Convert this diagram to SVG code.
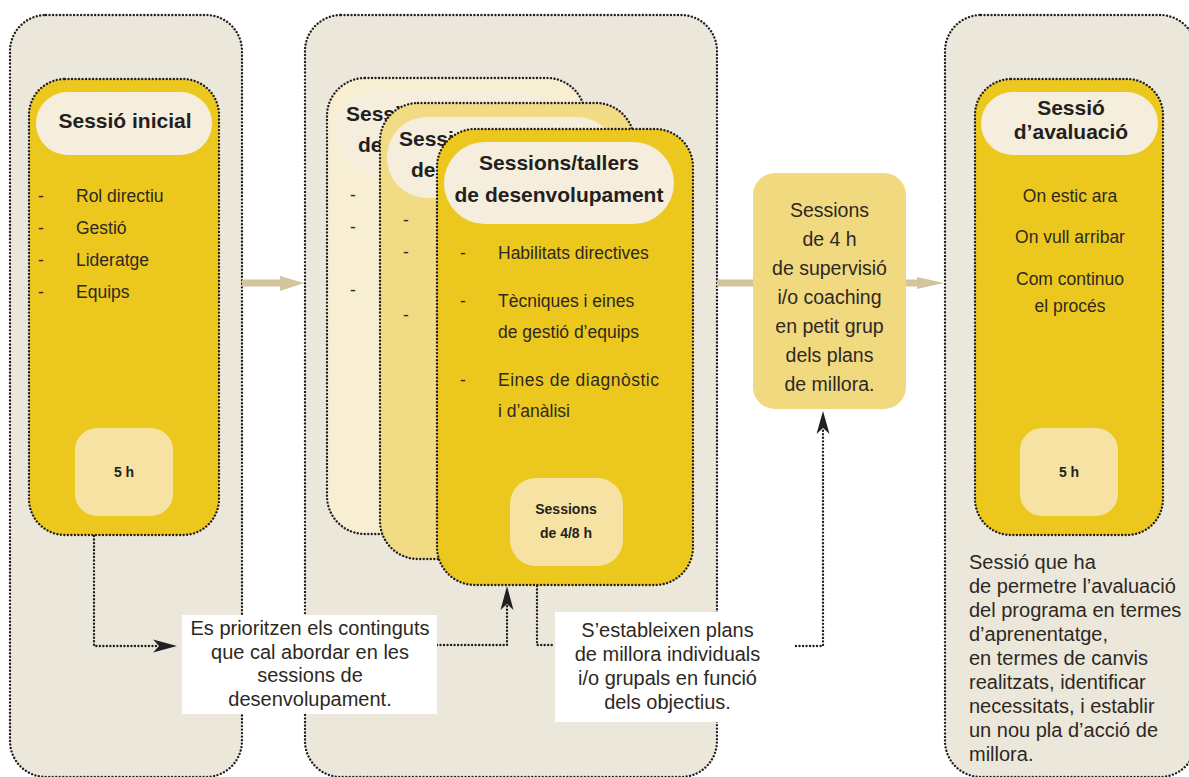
<svg xmlns="http://www.w3.org/2000/svg" width="1189" height="777" viewBox="0 0 1189 777">
<defs>
<style>
.dot{stroke:#231F20;stroke-width:2.4;stroke-dasharray:0.01 3.5;stroke-linecap:round;fill:none}
.cont{fill:#ECE7DB}
.yel{fill:#ECC81E}
.pill{fill:#F6EEDC}
.hrs{fill:#F6E3A3}
.t{font-family:"Liberation Sans",Arial,sans-serif;fill:#231F20}
.ttl{font-size:21px;font-weight:bold;text-anchor:middle}
.bt{font-size:21px;font-weight:bold}
.itm{font-size:17.5px;fill:#2E2823}
.b14{font-size:14px;font-weight:bold;text-anchor:middle}
.txt{font-size:20px;fill:#2E2823}
.mid{text-anchor:middle}
.arr{stroke:#D2C49B;stroke-width:7;fill:none}
.arrh{fill:#D2C49B}
.blk{fill:#231F20}
</style>
</defs>
<rect width="1189" height="777" fill="#FFFFFF"/>

<g id="container-1">
<rect class="cont" x="10" y="15" width="232" height="762" rx="36"/>
<rect class="dot" x="10" y="15" width="232" height="762" rx="36"/>
</g>
<g id="container-2">
<rect class="cont" x="305" y="15" width="412" height="762" rx="36"/>
<rect class="dot" x="305" y="15" width="412" height="762" rx="36"/>
</g>
<g id="container-3">
<rect class="cont" x="945" y="15" width="251" height="762" rx="36"/>
<rect class="dot" x="945" y="15" width="251" height="762" rx="36"/>
</g>

<g id="connectors">
<line class="arr" x1="242" y1="283" x2="284" y2="283"/>
<polygon class="arrh" points="304,283 280,276 280,291"/>
<line class="arr" x1="717" y1="283" x2="760" y2="283"/>
<line class="arr" x1="900" y1="283" x2="921" y2="283"/>
<polygon class="arrh" points="944,283 917,277 917,289"/>
<path class="dot" d="M94,536 V646 H156"/>
<polygon class="blk" points="177,646 153,639.5 159,646 153,652.5"/>
<path class="dot" d="M437,645 H507 V604"/>
<polygon class="blk" points="507,586 513.5,610 507,604 500.5,610"/>
<path class="dot" d="M537,586 V645 H555"/>
<path class="dot" d="M796,646 H823 V428"/>
<polygon class="blk" points="823,411 829.5,434 823,428 816.5,434"/>
</g>

<g id="node-sessio-inicial">
<rect class="yel" x="29" y="79" width="190" height="456" rx="36"/>
<rect class="dot" x="29" y="79" width="190" height="456" rx="36"/>
<rect class="pill" x="36" y="92" width="176" height="63" rx="31.5"/>
<text class="t ttl" x="125" y="128">Sessió inicial</text>
<text class="t itm" x="38" y="202">-</text><text class="t itm" x="76" y="202">Rol directiu</text>
<text class="t itm" x="38" y="234">-</text><text class="t itm" x="76" y="234">Gestió</text>
<text class="t itm" x="38" y="266">-</text><text class="t itm" x="76" y="266">Lideratge</text>
<text class="t itm" x="38" y="298">-</text><text class="t itm" x="76" y="298">Equips</text>
<rect class="hrs" x="75" y="428" width="98" height="88" rx="22"/>
<text class="t b14" x="124" y="477">5 h</text>
</g>

<g id="node-card-back">
<rect fill="#F8EFD3" x="327" y="78" width="258" height="456" rx="38"/>
<rect class="dot" x="327" y="78" width="258" height="456" rx="38"/>
<rect class="pill" x="334" y="92" width="232" height="81" rx="40"/>
<text class="t bt" x="346" y="121">Sessi</text>
<text class="t bt" x="358" y="152">de</text>
<text class="t itm" x="350" y="201">-</text>
<text class="t itm" x="350" y="233">-</text>
<text class="t itm" x="350" y="296">-</text>
</g>

<g id="node-card-middle">
<rect fill="#F1DB85" x="380" y="103" width="254" height="456" rx="38"/>
<rect class="dot" x="380" y="103" width="254" height="456" rx="38"/>
<rect class="pill" x="387" y="117" width="230" height="81" rx="40"/>
<text class="t bt" x="399" y="146">Sessi</text>
<text class="t bt" x="411" y="177">de</text>
<text class="t itm" x="403" y="226">-</text>
<text class="t itm" x="403" y="258">-</text>
<text class="t itm" x="403" y="321">-</text>
</g>

<g id="node-sessions-tallers">
<rect class="yel" x="437" y="129" width="256" height="456" rx="38"/>
<rect class="dot" x="437" y="129" width="256" height="456" rx="38"/>
<rect class="pill" x="444" y="142" width="230" height="82" rx="41"/>
<text class="t ttl" x="559" y="170">Sessions/tallers</text>
<text class="t ttl" x="559" y="202">de desenvolupament</text>
<text class="t itm" x="460" y="259">-</text><text class="t itm" x="498" y="259">Habilitats directives</text>
<text class="t itm" x="460" y="307">-</text><text class="t itm" x="498" y="307">Tècniques i eines</text>
<text class="t itm" x="498" y="338">de gestió d’equips</text>
<text class="t itm" x="460" y="386">-</text><text class="t itm" x="498" y="386" textLength="161" lengthAdjust="spacing">Eines de diagnòstic</text>
<text class="t itm" x="498" y="417">i d’anàlisi</text>
<rect class="hrs" x="510" y="478" width="113" height="88" rx="26"/>
<text class="t b14" x="566" y="514">Sessions</text>
<text class="t b14" x="566" y="538">de 4/8 h</text>
</g>

<g id="node-supervisio">
<rect fill="#F0D97F" x="753" y="173" width="153" height="236" rx="22"/>
<text class="t txt mid" style="font-size:19.5px" x="829.5" y="217">Sessions</text>
<text class="t txt mid" style="font-size:19.5px" x="829.5" y="246">de 4 h</text>
<text class="t txt mid" style="font-size:19.5px" x="829.5" y="275">de supervisió</text>
<text class="t txt mid" style="font-size:19.5px" x="829.5" y="304">i/o coaching</text>
<text class="t txt mid" style="font-size:19.5px" x="829.5" y="333">en petit grup</text>
<text class="t txt mid" style="font-size:19.5px" x="829.5" y="362">dels plans</text>
<text class="t txt mid" style="font-size:19.5px" x="829.5" y="391">de millora.</text>
</g>

<g id="node-avaluacio">
<rect class="yel" x="975" y="79" width="188" height="456" rx="36"/>
<rect class="dot" x="975" y="79" width="188" height="456" rx="36"/>
<rect class="pill" x="981" y="92" width="177" height="63" rx="31.5"/>
<text class="t ttl" x="1071" y="115">Sessió</text>
<text class="t ttl" x="1071" y="139">d’avaluació</text>
<text class="t itm mid" x="1070" y="202">On estic ara</text>
<text class="t itm mid" x="1070" y="243">On vull arribar</text>
<text class="t itm mid" x="1070" y="285">Com continuo</text>
<text class="t itm mid" x="1070" y="312">el procés</text>
<rect class="hrs" x="1020" y="428" width="98" height="88" rx="22"/>
<text class="t b14" x="1069" y="477">5 h</text>
</g>

<g id="node-avaluacio-desc">
<text class="t txt" x="969" y="569">Sessió que ha</text>
<text class="t txt" x="969" y="593">de permetre l’avaluació</text>
<text class="t txt" x="969" y="617">del programa en termes</text>
<text class="t txt" x="969" y="641">d’aprenentatge,</text>
<text class="t txt" x="969" y="665">en termes de canvis</text>
<text class="t txt" x="969" y="689">realitzats, identificar</text>
<text class="t txt" x="969" y="713">necessitats, i establir</text>
<text class="t txt" x="969" y="737">un nou pla d’acció de</text>
<text class="t txt" x="969" y="761">millora.</text>
</g>

<g id="node-prioritzen">
<rect fill="#FFFFFF" x="182" y="615" width="255" height="99"/>
<text class="t txt mid" x="310" y="635">Es prioritzen els continguts</text>
<text class="t txt mid" x="310" y="659">que cal abordar en les</text>
<text class="t txt mid" x="310" y="682">sessions de</text>
<text class="t txt mid" x="310" y="706">desenvolupament.</text>
</g>

<g id="node-plans">
<rect fill="#FFFFFF" x="555" y="612" width="225" height="110"/>
<text class="t txt mid" x="667.5" y="637">S’estableixen plans</text>
<text class="t txt mid" x="667.5" y="661">de millora individuals</text>
<text class="t txt mid" x="667.5" y="685">i/o grupals en funció</text>
<text class="t txt mid" x="667.5" y="709">dels objectius.</text>
</g>
</svg>
